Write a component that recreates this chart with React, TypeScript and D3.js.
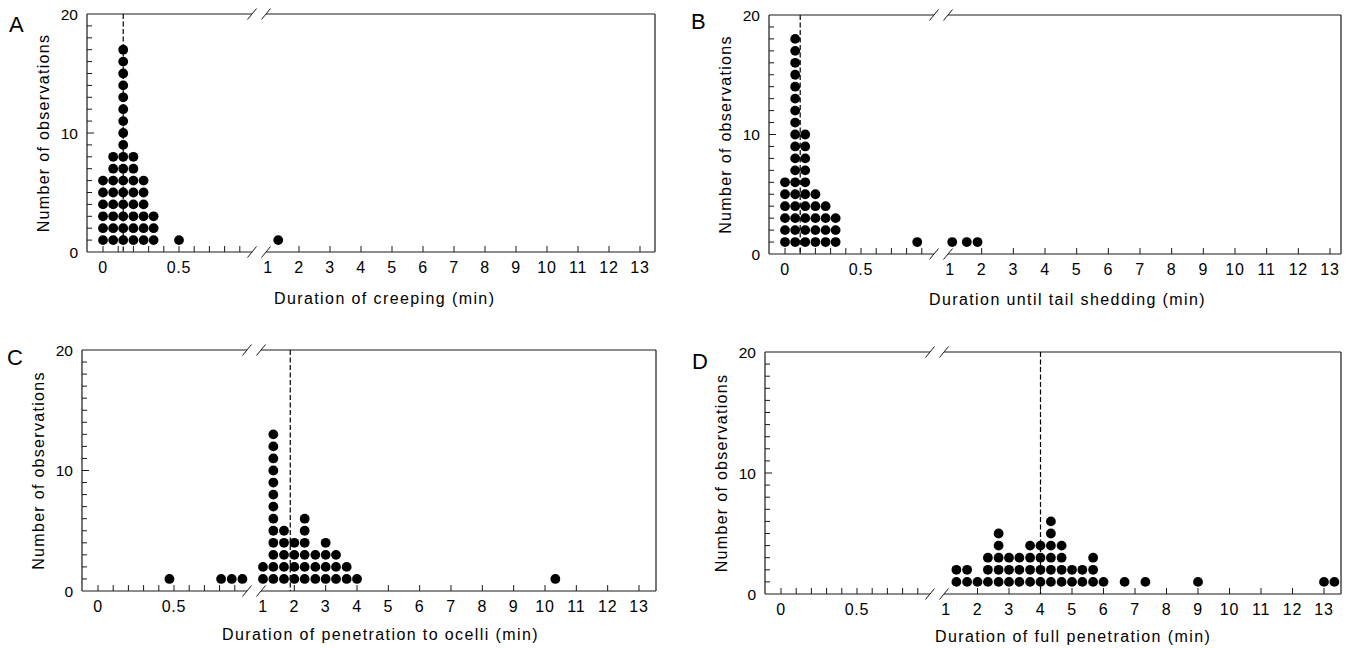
import React from "react";
import * as d3 from "d3";

// observations binned by duration (min); one dot per observation
const creepBins = [0, 0.067, 0.133, 0.2, 0.267, 0.333, 0.5, 1.33];
const creepCounts = [6, 8, 17, 8, 6, 3, 1, 1];
const creepMedian = 0.133;

const tailBins = [0, 0.067, 0.133, 0.2, 0.267, 0.333, 0.87, 1.07, 1.53, 1.87];
const tailCounts = [6, 18, 10, 5, 4, 3, 1, 1, 1, 1];
const tailMedian = 0.1;

const ocelliBins = [0.47, 0.81, 0.88, 0.95, 1.0, 1.33, 1.67, 2.0, 2.33, 2.67, 3.0, 3.33, 3.67, 4.0, 10.33];
const ocelliCounts = [1, 1, 1, 1, 2, 13, 5, 4, 6, 3, 4, 3, 2, 1, 1];
const ocelliMedian = 1.87;

const fullBins = [1.33, 1.67, 2.0, 2.33, 2.67, 3.0, 3.33, 3.67, 4.0, 4.33, 4.67, 5.0, 5.33, 5.67, 6.0, 6.67, 7.33, 9.0, 13.0, 13.33];
const fullCounts = [2, 2, 1, 3, 5, 3, 3, 4, 4, 6, 4, 2, 2, 3, 1, 1, 1, 1, 1, 1];
const fullMedian = 4.0;

const leftTicks = [0, 0.1, 0.2, 0.3, 0.4, 0.5, 0.6, 0.7, 0.8, 0.9];
const leftLabels = [0, 0.5];
const rightTicks = [2, 3, 4, 5, 6, 7, 8, 9, 10, 11, 12, 13];
const rightLabels = [1, 2, 3, 4, 5, 6, 7, 8, 9, 10, 11, 12, 13];
const yTicks = d3.range(1, 20);
const yLabels = [0, 10, 20];
const yTitle = "Number of observations";

const panels = [
  { key: "A", title: "Duration of creeping (min)", bins: creepBins, counts: creepCounts, median: creepMedian,
    ox: 87, oy: 14, h: 238, w: 568, x13: 553, titleX: 274, lx: 9, ly: 32 },
  { key: "B", title: "Duration until tail shedding (min)", bins: tailBins, counts: tailCounts, median: tailMedian,
    ox: 769, oy: 15, h: 239, w: 572, x13: 561, titleX: 929, lx: 691, ly: 29 },
  { key: "C", title: "Duration of penetration to ocelli (min)", bins: ocelliBins, counts: ocelliCounts, median: ocelliMedian,
    ox: 82, oy: 350, h: 241, w: 574, x13: 557, titleX: 222, lx: 7, ly: 365 },
  { key: "D", title: "Duration of full penetration (min)", bins: fullBins, counts: fullCounts, median: fullMedian,
    ox: 765, oy: 352, h: 242, w: 576, x13: 559, titleX: 935, lx: 692, ly: 369 },
];

const FONT = "'Liberation Sans', Arial, Helvetica, sans-serif";
const INK = "#1a1a1a";

const Panel = ({ p }: { p: any }) => {
  const { ox, oy, h, w } = p;
  const bottom = oy + h;
  const right = ox + w;
  const brk1 = ox + 165;
  const brk2 = ox + 179;

  const xl = d3.scaleLinear().domain([0, 1]).range([ox + 16, ox + 168]);
  const xr = d3.scaleLinear().domain([1, 13]).range([ox + 181, ox + p.x13]);
  const x = (v: number) => (v < 1 ? xl(v) : xr(v));
  const y = d3.scaleLinear().domain([0, 20]).range([bottom, oy]);

  const dots: { cx: number; cy: number }[] = [];
  p.bins.forEach((b: number, i: number) => {
    for (let k = 1; k <= p.counts[i]; k++) dots.push({ cx: x(b), cy: y(k) });
  });

  const slash = (c: number, yy: number, key: string) => (
    <line key={key} x1={c - 4.5} y1={yy + 5.5} x2={c + 4.5} y2={yy - 5.5} stroke={INK} strokeWidth={1} />
  );

  return (
    <g>
      <text x={p.lx} y={p.ly} fontSize={22} fontFamily={FONT} fill="#000">{p.key}</text>

      {/* frame with axis breaks */}
      <line x1={ox} y1={oy} x2={ox} y2={bottom} stroke={INK} strokeWidth={1.2} />
      <line x1={right} y1={oy} x2={right} y2={bottom} stroke={INK} strokeWidth={1.2} />
      <line x1={ox} y1={bottom} x2={brk1} y2={bottom} stroke={INK} strokeWidth={1.2} />
      <line x1={brk2} y1={bottom} x2={right} y2={bottom} stroke={INK} strokeWidth={1.2} />
      <line x1={ox} y1={oy} x2={brk1} y2={oy} stroke={INK} strokeWidth={1.2} />
      <line x1={brk2} y1={oy} x2={right} y2={oy} stroke={INK} strokeWidth={1.2} />
      {slash(brk1, bottom, "s1")}
      {slash(brk2, bottom, "s2")}
      {slash(brk1, oy, "s3")}
      {slash(brk2, oy, "s4")}

      {/* y axis */}
      {yTicks.map((t) => (
        <line key={"yt" + t} x1={ox} x2={ox + (t === 10 ? 7 : 5)} y1={y(t)} y2={y(t)} stroke={INK} strokeWidth={1} />
      ))}
      {yLabels.map((t) => (
        <text key={"yl" + t} x={ox - 9} y={y(t)} textAnchor="end" dominantBaseline="central"
          fontSize={15.5} fontFamily={FONT} fill="#000">{t}</text>
      ))}
      <text transform={`translate(${ox - 44},${oy + h / 2}) rotate(-90)`} textAnchor="middle" dominantBaseline="central"
        fontSize={16} letterSpacing={1.3} fontFamily={FONT} fill="#000">{yTitle}</text>

      {/* x axis */}
      {leftTicks.map((t) => (
        <line key={"lt" + t} x1={xl(t)} x2={xl(t)} y1={bottom} y2={bottom - 6} stroke={INK} strokeWidth={1} />
      ))}
      {rightTicks.map((t) => (
        <line key={"rt" + t} x1={xr(t)} x2={xr(t)} y1={bottom} y2={bottom - 6} stroke={INK} strokeWidth={1} />
      ))}
      {leftLabels.map((t) => (
        <text key={"ll" + t} x={xl(t)} y={bottom + 21} textAnchor="middle" fontSize={16} letterSpacing={0.8}
          fontFamily={FONT} fill="#000">{t}</text>
      ))}
      {rightLabels.map((t) => (
        <text key={"rl" + t} x={xr(t)} y={bottom + 21} textAnchor="middle" fontSize={16} letterSpacing={0.8}
          fontFamily={FONT} fill="#000">{t}</text>
      ))}
      <text x={p.titleX} y={oy + 290} fontSize={16} letterSpacing={1.4} fontFamily={FONT} fill="#000">{p.title}</text>

      {/* median */}
      <line x1={x(p.median)} x2={x(p.median)} y1={oy} y2={bottom} stroke="#000" strokeWidth={1.2} strokeDasharray="5,2.5" />

      {dots.map((d, i) => (
        <circle key={i} cx={d.cx} cy={d.cy} r={4.9} fill="#000" />
      ))}
    </g>
  );
};

export default function App() {
  return (
    <svg width={1346} height={648} style={{ position: "absolute", left: 0, top: 0, background: "#fff" }}>
      <rect width={1346} height={648} fill="#fff" />
      {panels.map((p) => (
        <Panel key={p.key} p={p} />
      ))}
    </svg>
  );
}
